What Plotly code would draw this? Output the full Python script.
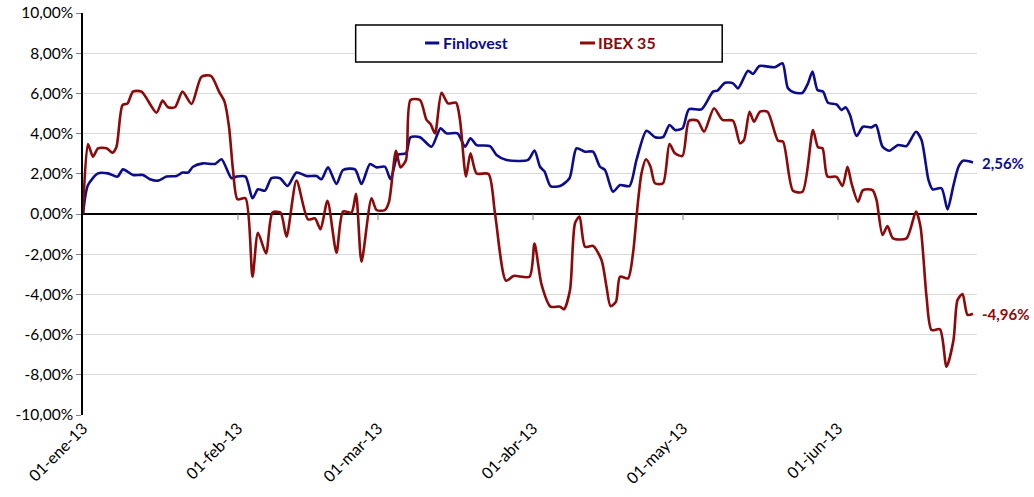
import pandas as pd
import plotly.graph_objects as go

START = pd.Timestamp("2013-01-01")

# Finlovest: (days since 01-ene-13, cumulative return %)
fin_days = [0, 1, 3, 5, 6.9, 8, 10, 12, 13.4, 15, 16.7, 18.7, 19.9, 21, 22, 24, 26.4, 27.7, 29.7, 30.7,
            32.5, 33.9, 35, 36.4, 37.7, 39.4, 40.9, 42.7, 44.7, 46.7, 47.7, 49, 50.7, 52, 54.4, 55.7,
            57.4, 58.7, 60.4, 61.5, 63, 64.6, 65.5, 67.4, 69.7, 71.5, 72.7, 74.9, 76.4, 77.5, 78.7,
            81.4, 82.7, 84.7, 89, 90.3, 91.4, 92.3, 93.5, 95.4, 97.3, 98.7, 100.4, 102, 103.4, 104.4,
            106, 107.4, 109.3, 110.7, 112.7, 114.4, 116, 117.3, 118.4, 119.9, 121.2, 123.7, 126, 126.9,
            128.4, 130, 131, 133, 134, 135.3, 138.4, 139.9, 141, 142.4, 143.9, 145, 145.9, 146.9, 148,
            149, 150.7, 151.7, 152.5, 153.4, 154.7, 156, 157.7, 158.6, 159.9, 161.3, 163, 164.7, 166.6,
            167.7, 169.1, 169.9, 171.7, 172.9, 174.1, 175.1, 176, 178]
fin_vals = [0, 1.44, 2.02, 2.02, 1.86, 2.22, 1.94, 1.94, 1.73, 1.66, 1.86, 1.89, 2.06, 2.06, 2.35, 2.52,
            2.49, 2.72, 1.78, 1.86, 1.86, 0.78, 1.23, 1.16, 1.78, 1.78, 1.39, 2.06, 1.89, 1.89, 1.73,
            2.32, 1.49, 2.19, 2.22, 1.49, 2.49, 2.32, 2.35, 1.73, 2.94, 3.02, 3.82, 3.82, 3.35, 4.26,
            4.01, 4.01, 3.35, 3.77, 3.43, 3.38, 2.94, 2.69, 2.69, 3.16, 2.35, 2.12, 1.39, 1.39, 1.78,
            3.27, 3.10, 3.10, 2.35, 2.19, 1.11, 1.44, 1.39, 2.69, 4.14, 3.82, 3.82, 4.43, 4.18, 4.26,
            5.21, 5.21, 6.09, 6.14, 6.53, 6.50, 6.25, 7.13, 6.97, 7.36, 7.30, 7.50, 6.25, 6.03, 6.03,
            6.50, 7.09, 6.17, 6.09, 5.54, 5.45, 5.17, 5.31, 4.93, 3.88, 4.34, 4.31, 4.43, 3.35, 3.15,
            3.43, 3.38, 4.09, 3.68, 1.69, 1.23, 1.28, 0.23, 1.44, 2.35, 2.65, 2.56]

# IBEX 35
ibex_days = [0, 1, 2, 3, 4.7, 5.9, 6.7, 7.9, 8.9, 10, 11.7, 14.7, 15.9, 17, 18.4, 19.9, 21.7, 23.7, 25.6,
             27.2, 28.3, 29.2, 30, 30.9, 32.5, 33.9, 35, 36.6, 37.9, 39.5, 40.7, 42.7, 45, 46.4, 47.5,
             48.9, 50.7, 52, 53.7, 54.6, 55.7, 57.7, 58.7, 60.4, 61.2, 62.6, 63.5, 64.6, 65.5, 67.4,
             68.7, 69.5, 70.4, 71.7, 73, 74.6, 75.4, 76.6, 77.5, 78.7, 81.1, 82.4, 84.6, 86.1, 89.3,
             90.3, 91.7, 93.5, 95.4, 96.2, 97.4, 98.4, 99.3, 100.4, 102, 103.7, 104.7, 105.5, 106.6,
             107.4, 109, 110, 110.9, 111.7, 112.6, 113.5, 114.4, 116, 117.3, 118.4, 119.9, 121.2,
             122.9, 124.2, 126.2, 127.9, 130, 131.4, 132.2, 133.3, 134.2, 135.4, 136.9, 139, 140, 142,
             143.9, 146, 147, 147.9, 148.9, 150.7, 151.9, 152.9, 153.7, 155, 156, 157.9, 158.7, 159.9,
             160.9, 162, 164.7, 166.6, 167.5, 168.7, 169.7, 171.4, 172.7, 174.1, 174.9, 175.9, 176.9, 178]
ibex_vals = [0, 3.48, 2.85, 3.27, 3.27, 3.05, 3.35, 5.42, 5.5, 6.09, 6.09, 5.04, 5.64, 5.31, 5.31, 6.09,
             5.47, 6.83, 6.87, 6.09, 5.59, 4.34, 2.19, 0.73, 0.78, -3.12, -0.93, -1.96, 0.07, 0.07,
             -1.13, 1.66, -0.27, -0.22, -0.76, 0.66, -1.93, 0.12, 0.07, 1.0, -2.37, 0.78, 0.20, 0.20,
             0.6, 3.15, 2.32, 2.69, 5.67, 5.67, 4.68, 4.48, 4.01, 6.03, 5.5, 5.54, 4.68, 1.86, 3.02,
             2.02, 1.99, 0.03, -3.32, -3.08, -3.12, -1.47, -3.5, -4.61, -4.61, -4.74, -3.78, -0.46,
             -0.13, -1.63, -1.59, -2.29, -3.62, -4.58, -4.36, -3.12, -3.20, -1.96, 0.37, 2.02, 2.72,
             2.35, 1.53, 1.53, 3.48, 3.02, 2.89, 4.64, 4.64, 4.09, 5.26, 4.68, 4.64, 3.52, 3.68, 5.09,
             4.59, 5.09, 5.09, 3.65, 3.60, 1.16, 1.11, 4.18, 3.32, 3.27, 1.86, 1.85, 1.39, 2.35, 1.53,
             0.61, 1.19, 1.19, 0.70, -1.04, -0.60, -1.21, -1.21, 0.12, -0.63, -4.11, -5.77, -5.74,
             -7.60, -6.27, -4.28, -3.98, -5.02, -4.96]

series_names = ["Finlovest", "IBEX 35"]
series_colors = ["#0d0d8c", "#8b0a0a"]

x_tick_dates = ["2013-01-01", "2013-02-01", "2013-03-01", "2013-04-01", "2013-05-01", "2013-06-01"]
x_tick_labels = ["01-ene-13", "01-feb-13", "01-mar-13", "01-abr-13", "01-may-13", "01-jun-13"]
y_tick_vals = [-10, -8, -6, -4, -2, 0, 2, 4, 6, 8, 10]
y_tick_labels = ["-10,00%", "-8,00%", "-6,00%", "-4,00%", "-2,00%", "0,00%",
                 "2,00%", "4,00%", "6,00%", "8,00%", "10,00%"]


def to_dates(days):
    return START + pd.to_timedelta(days, unit="D")


FONT = "Lato, 'Open Sans', sans-serif"

fig = go.Figure()
for name, days, vals, col in zip(series_names, [fin_days, ibex_days], [fin_vals, ibex_vals], series_colors):
    fig.add_trace(go.Scatter(
        x=to_dates(days), y=vals, mode="lines", name=name,
        line=dict(color=col, width=2.6, shape="spline", smoothing=0.7),
        showlegend=False, hoverinfo="skip"))

# end-value labels
for days, vals, col in zip([fin_days, ibex_days], [fin_vals, ibex_vals], series_colors):
    fig.add_annotation(x=to_dates([days[-1]])[0], y=vals[-1],
                       text=("%.2f%%" % vals[-1]).replace(".", ","),
                       showarrow=False, xanchor="left", yanchor="middle", xshift=7,
                       font=dict(family=FONT, size=15, color=col, weight="bold"))

# tick marks on the zero line at month starts
for d in x_tick_dates[1:]:
    fig.add_shape(type="line", xref="x", yref="y", x0=d, x1=d, y0=0, y1=-0.3,
                  line=dict(color="#7f7f7f", width=1))

# legend box (drawn manually to match the wide framed legend)
fig.add_shape(type="rect", xref="paper", yref="paper", x0=0.305, x1=0.715, y0=0.878, y1=0.970,
              line=dict(color="#000000", width=1.5), fillcolor="white", layer="above")
legend_pos = [(0.3826, 0.3985, 0.4000), (0.5559, 0.5727, 0.5742)]
for name, col, (lx0, lx1, tx) in zip(series_names, series_colors, legend_pos):
    fig.add_shape(type="line", xref="paper", yref="paper", x0=lx0, x1=lx1, y0=0.9254, y1=0.9254,
                  line=dict(color=col, width=3), layer="above")
    fig.add_annotation(xref="paper", yref="paper", x=tx, y=0.9254, xanchor="left", yanchor="middle",
                       text=name, showarrow=False,
                       font=dict(family=FONT, size=16, color=col, weight="bold"))

fig.update_layout(
    width=1034, height=497,
    margin=dict(l=83, r=57, t=13, b=82, autoexpand=False),
    paper_bgcolor="white", plot_bgcolor="white",
    font=dict(family=FONT, size=16, color="#000000"),
)
fig.update_xaxes(
    range=[to_dates([0])[0], to_dates([178.8])[0]], automargin=False,
    tickvals=x_tick_dates, ticktext=x_tick_labels, tickangle=-45,
    showgrid=False, zeroline=False, showline=False, ticks="",
    tickfont=dict(family=FONT, size=16, color="#000000"),
)
fig.update_yaxes(
    range=[-10, 10], tickvals=y_tick_vals, ticktext=y_tick_labels, automargin=False,
    showgrid=True, gridcolor="#d9d9d9", gridwidth=1,
    zeroline=True, zerolinecolor="#000000", zerolinewidth=1.5,
    showline=True, linecolor="#000000", linewidth=1.5,
    ticks="outside", ticklen=5, tickcolor="#7f7f7f",
    tickfont=dict(family=FONT, size=15.5, color="#000000"),
)

fig.write_html("out.html", config={"displayModeBar": False},
               post_script="document.body.style.margin='0';document.body.style.overflow='hidden';")
